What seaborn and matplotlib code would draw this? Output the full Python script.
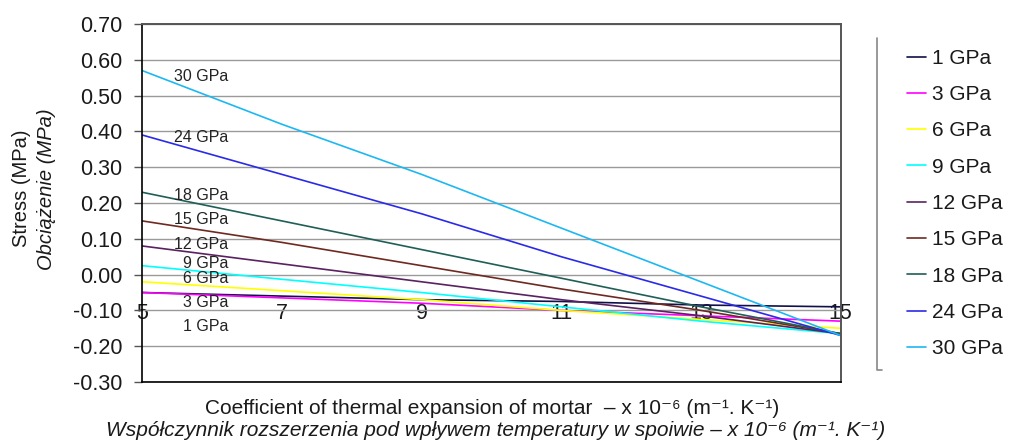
import pandas as pd
import matplotlib.pyplot as plt
import seaborn as sns
from matplotlib.lines import Line2D

# data (stress in MPa at each coefficient value)
coef = [5, 7, 9, 11, 13, 15]
s_1 = [-0.05, -0.06, -0.07, -0.075, -0.085, -0.09]
s_3 = [-0.05, -0.065, -0.08, -0.10, -0.115, -0.13]
s_6 = [-0.02, -0.045, -0.07, -0.10, -0.125, -0.15]
s_9 = [0.025, -0.013, -0.05, -0.09, -0.13, -0.165]
s_12 = [0.08, 0.03, -0.02, -0.07, -0.115, -0.165]
s_15 = [0.15, 0.09, 0.025, -0.04, -0.10, -0.165]
s_18 = [0.23, 0.15, 0.07, -0.01, -0.09, -0.165]
s_24 = [0.39, 0.28, 0.17, 0.05, -0.06, -0.17]
s_30 = [0.57, 0.42, 0.28, 0.13, -0.02, -0.17]

series_names = ['1 GPa', '3 GPa', '6 GPa', '9 GPa', '12 GPa', '15 GPa', '18 GPa', '24 GPa', '30 GPa']
series_vals = [s_1, s_3, s_6, s_9, s_12, s_15, s_18, s_24, s_30]
colors = ['#10104a', '#ff00ff', '#ffff00', '#00ffff', '#5a2260', '#6e2a22', '#1f5f58', '#2a2ae8', '#1cb8f2']

# in-plot label positions (same units as the axes)
label_y = [-0.146, -0.079, -0.01, 0.032, 0.083, 0.153, 0.222, 0.384, 0.552]

rows = []
for name, vals in zip(series_names, series_vals):
    for c, v in zip(coef, vals):
        rows.append({'coef': c, 'stress': v, 'E': name})
df = pd.DataFrame(rows)

sns.set_style('white')
plt.rcParams['font.family'] = ['Liberation Sans', 'DejaVu Sans']

fig = plt.figure(figsize=(10.11, 4.44), dpi=100)
ax = fig.add_axes([0.1405, 0.1396, 0.691, 0.8064])

sns.lineplot(data=df, x='coef', y='stress', hue='E', hue_order=series_names,
             palette=dict(zip(series_names, colors)), linewidth=1.2, ax=ax, legend=False)

ax.set_xlim(5, 15)
ax.set_ylim(-0.30, 0.70)
ax.set_yticks([round(-0.3 + 0.1 * i, 2) for i in range(11)])
ax.set_yticklabels(['%.2f' % t for t in ax.get_yticks()], fontsize=15.5, color='#1a1a1a')
ax.yaxis.grid(True, color='#9a9a9a', linewidth=1.0)
ax.set_axisbelow(True)

ax.set_xticks(coef)
ax.set_xticklabels([str(c) for c in coef], fontsize=15.5, color='#1a1a1a')
ax.tick_params(axis='x', length=0, pad=-57)
ax.tick_params(axis='y', length=6, width=1, color='#555555', left=True, pad=8)

for side in ['left', 'bottom']:
    ax.spines[side].set_color('black')
    ax.spines[side].set_linewidth(1.2)
for side in ['top', 'right']:
    ax.spines[side].set_color('#555555')
    ax.spines[side].set_linewidth(1.4)

for name, yv in zip(series_names, label_y):
    ax.text(6.23, yv, name, fontsize=11.5, ha='right', va='center', color='#222222')

ax.set_xlabel('')
ax.set_ylabel('')
fig.text(0.487, 0.081, 'Coefficient of thermal expansion of mortar  – x 10⁻⁶ (m⁻¹. K⁻¹)',
         ha='center', va='center', fontsize=15, color='#1a1a1a')
fig.text(0.49, 0.031, 'Współczynnik rozszerzenia pod wpływem temperatury w spoiwie – x 10⁻⁶ (m⁻¹. K⁻¹)',
         ha='center', va='center', fontsize=15, style='italic', color='#1a1a1a')
fig.text(0.021, 0.575, 'Stress (MPa)', rotation=90, ha='center', va='center', fontsize=14.5, color='#1a1a1a')
fig.text(0.046, 0.573, 'Obciążenie (MPa)', rotation=90, ha='center', va='center', fontsize=14.5,
         style='italic', color='#1a1a1a')

# legend with a bracket on its left side
handles = [Line2D([0], [0], color=c, linewidth=1.2) for c in colors]
fig.legend(handles, series_names, loc='upper left', bbox_to_anchor=(0.897, 0.89),
           frameon=False, fontsize=15, handlelength=0.93, handletextpad=0.28,
           labelspacing=0.83, borderpad=0, borderaxespad=0, labelcolor='#1a1a1a')
fig.add_artist(Line2D([0.8675, 0.8675, 0.8725], [0.914, 0.167, 0.167],
                      transform=fig.transFigure, color='#888888', linewidth=1.2))

plt.savefig('out.png', dpi=100)
plt.close()
